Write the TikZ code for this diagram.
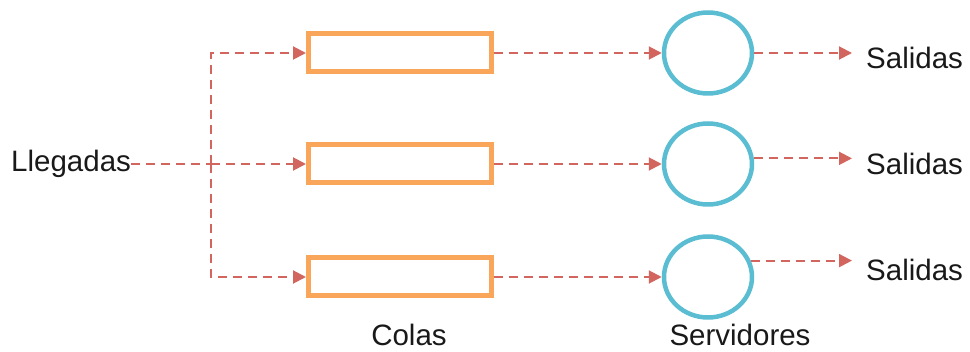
\documentclass[tikz,border=0pt]{standalone}
\usepackage{fontspec}
\setmainfont{Liberation Sans}
\usetikzlibrary{arrows.meta,shapes.geometric}
\definecolor{qorange}{HTML}{F9A55A}
\definecolor{scyan}{HTML}{5BBDD2}
\definecolor{flowred}{HTML}{D2665F}
\begin{document}
\begin{tikzpicture}[x=1pt,y=-1pt,
  txt/.style={font=\fontsize{29.5}{33}\selectfont, text=black!90, inner sep=0pt},
  queue/.style={draw=qorange, line width=5pt, minimum width=183pt, minimum height=38pt, inner sep=0pt},
  server/.style={draw=scyan, ellipse, line width=4.5pt, minimum width=88pt, minimum height=81pt, inner sep=0pt},
  flow/.style={draw=flowred, line width=2pt, dash pattern=on 9pt off 6pt, -{Triangle[length=13pt,width=13pt,fill=flowred]}},
  flowplain/.style={draw=flowred, line width=2pt, dash pattern=on 9pt off 6pt}]
\useasboundingbox (0,0) rectangle (970,352);
\node[txt, anchor=west] (ll) at (11,164) {Llegadas};
\coordinate (j) at (211,164);
\node[queue] (q1) at (400,53) {};
\node[queue] (q2) at (400,164) {};
\node[queue] (q3) at (400,277) {};
\node[server] (c1) at (708,53) {};
\node[server] (c2) at (708,164) {};
\node[server] (c3) at (708,277) {};
\node[txt, anchor=west] (s1) at (866,58) {Salidas};
\node[txt, anchor=west] (s2) at (866,164) {Salidas};
\node[txt, anchor=west] (s3) at (866,270) {Salidas};
\node[txt] (colas) at (409,335) {Colas};
\node[txt] (serv) at (740,335) {Servidores};
\draw[flowplain] (ll.east) -- (j);
\draw[flow] (j) -- (q2.west);
\draw[flow] (j) |- (q1.west);
\draw[flow] (j) |- (q3.west);
\draw[flow] (q1.east) -- (c1.west);
\draw[flow] (q2.east) -- (c2.west);
\draw[flow] (q3.east) -- (c3.west);
\draw[flow, shorten >=14pt] (c1.east) -- (c1.east -| s1.west);
\draw[flow, shorten >=14pt] (c2.7) -- (c2.7 -| s2.west);
\draw[flow, shorten >=14pt] (c3.21) -- (c3.21 -| s3.west);
\end{tikzpicture}
\end{document}
